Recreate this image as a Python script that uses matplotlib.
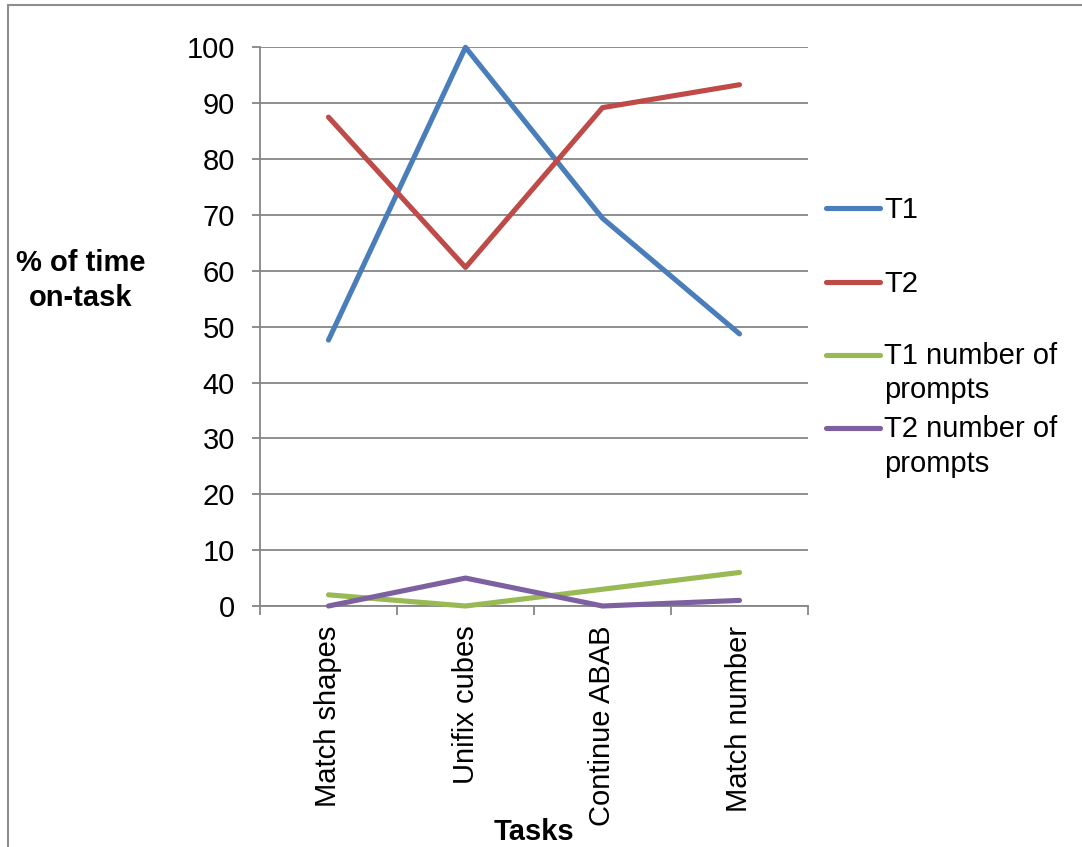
import matplotlib
matplotlib.use("Agg")
import matplotlib.pyplot as plt
from matplotlib.lines import Line2D
from matplotlib.patches import Rectangle
from matplotlib.ticker import FixedLocator, MultipleLocator

plt.rcParams["font.family"] = ["Liberation Sans", "DejaVu Sans"]

tasks = ["Match shapes", "Unifix cubes", "Continue ABAB", "Match number"]
t1_on_task = [47.6, 100, 69.4, 48.7]
t2_on_task = [87.5, 60.6, 89.2, 93.3]
t1_prompts = [2, 0, 3, 6]
t2_prompts = [0, 5, 0, 1]

series_names = ["T1", "T2", "T1 number of\nprompts", "T2 number of\nprompts"]
series_colors = ["#4A7EBB", "#BE4B48", "#98B954", "#7D60A0"]
series_values = [t1_on_task, t2_on_task, t1_prompts, t2_prompts]

W, H = 1082, 847
fig = plt.figure(figsize=(W / 100, H / 100), dpi=100)
fig.patch.set_facecolor("white")

def fx(px):
    return px / W

def fy(py):
    return 1 - py / H

ax = fig.add_axes([fx(260), fy(606), fx(808) - fx(260), fy(47.3) - fy(606)])

grey = "#868686"
fs = 21
x = list(range(len(tasks)))

for vals, col in zip(series_values, series_colors):
    ax.plot(x, vals, color=col, lw=3.7, solid_capstyle="round",
            solid_joinstyle="round", clip_on=False, zorder=3)

ax.set_xlim(-0.5, len(tasks) - 0.5)
ax.set_ylim(0, 100)

ax.yaxis.set_major_locator(MultipleLocator(10))
ax.grid(axis="y", color=grey, lw=1.3, zorder=0)
ax.set_axisbelow(True)

ax.set_xticks(x)
ax.set_xticklabels(tasks, rotation=90, ha="center", va="top", fontsize=fs)
ax.xaxis.set_minor_locator(FixedLocator([i - 0.5 for i in range(len(tasks) + 1)]))
ax.tick_params(axis="x", which="major", length=0, pad=14)
ax.tick_params(axis="x", which="minor", length=6.5, width=1.3, color=grey, direction="out")
ax.tick_params(axis="y", which="major", length=6, width=1.3, color=grey,
               direction="out", labelsize=fs, pad=12)

for side in ("top", "right"):
    ax.spines[side].set_visible(False)
for side in ("left", "bottom"):
    ax.spines[side].set_color(grey)
    ax.spines[side].set_linewidth(1.3)

# axis titles
fig.text(fx(534), fy(840), "Tasks", ha="center", va="baseline",
         fontsize=fs, fontweight="bold")
fig.text(fx(81), fy(306), "% of time\non-task", ha="center", va="baseline",
         multialignment="center", fontsize=fs, fontweight="bold", linespacing=1.3)

# legend on the right side; text baseline refers to the last line of a label
legend_y = [207.7, 281.7, 355, 428.3]
line_step = 33
for name, col, ly in zip(series_names, series_colors, legend_y):
    fig.add_artist(Line2D([fx(826), fx(880)], [fy(ly), fy(ly)], color=col, lw=3.7,
                          solid_capstyle="round", transform=fig.transFigure))
    extra = name.count("\n") * line_step
    fig.text(fx(884), fy(ly + 10.5 + extra), name, ha="left", va="baseline",
             fontsize=fs, linespacing=1.3)

# outer chart frame
fig.add_artist(Rectangle((fx(8), -0.1), 1.2, fy(4.7) + 0.1, transform=fig.transFigure,
                         fill=False, edgecolor="#8e8e8e", lw=1.5))

fig.savefig("out.png", dpi=100, facecolor="white")
